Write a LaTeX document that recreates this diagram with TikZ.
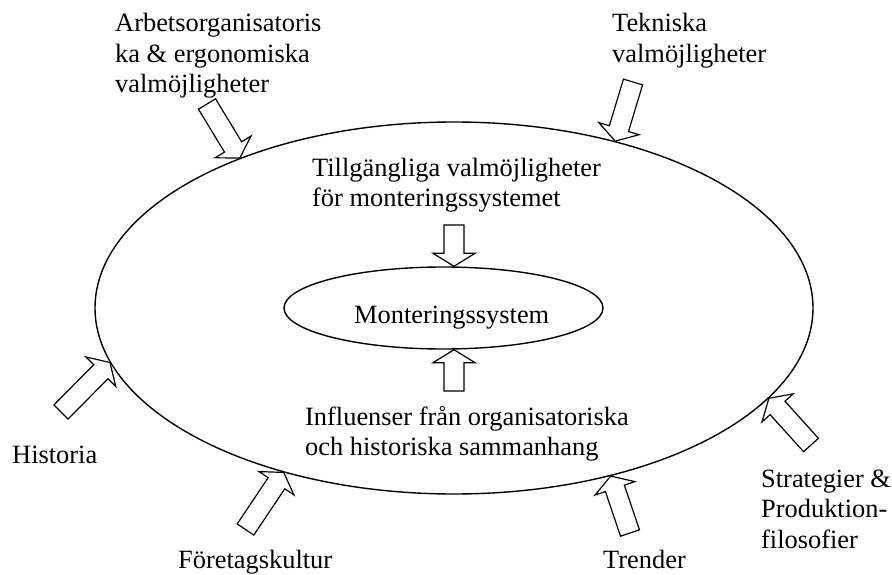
\documentclass[tikz,border=0pt]{standalone}
\usepackage{fontspec}
\setmainfont{Liberation Serif}
\usetikzlibrary{calc, shapes.geometric}

\newcommand{\blockpil}[2]{%
    \coordinate (hb) at ($(#2)!13pt!(#1)$);
    \draw[pil] ($(#1)!10pt!90:(#2)$) -- ($(hb)!10pt!90:(#2)$) -- ($(hb)!21pt!90:(#2)$) -- (#2)
        -- ($(hb)!21pt!-90:(#2)$) -- ($(hb)!10pt!-90:(#2)$) -- ($(#1)!10pt!-90:(#2)$) -- cycle;
}

\begin{document}
\begin{tikzpicture}[x=1pt, y=-1pt, font=\fontsize{26.4}{30.5}\selectfont,
    txt/.style={anchor=base west, inner sep=0pt, align=left},
    oval/.style={draw, ellipse, line width=1.4pt, inner sep=0pt},
    pil/.style={draw, fill=white, line width=1.2pt, line join=miter}
]
    \useasboundingbox (0,0) rectangle (892,575);
    \node[oval, minimum width=718pt, minimum height=372pt] (ytre) at (454,308) {};
    \node[oval, minimum width=319pt, minimum height=82pt] (inre) at (443.5,308) {};

    % base = last line
    \node[txt] (arbete) at (115,93) {Arbetsorganisatoris\\ka \& ergonomiska\\valmöjligheter};
    \node[txt] (teknik) at (612,62.5) {Tekniska\\valmöjligheter};
    \node[txt] (tillg) at (312,206.5) {Tillgängliga valmöjligheter\\för monteringssystemet};
    \node[txt] (mont) at (354,323) {Monteringssystem};
    \node[txt] (influ) at (305,455.5) {Influenser från organisatoriska\\och historiska sammanhang};
    \node[txt] (historia) at (12,463) {Historia};
    \node[txt] (foretag) at (178,568) {Företagskultur};
    \node[txt] (trender) at (603,568) {Trender};
    \node[txt] (strategi) at (761,548) {Strategier \&\\Produktion-\\filosofier};

    \coordinate (s1) at (207,104);
    \coordinate (s2) at (633,82);
    \coordinate (s3) at (61,412);
    \coordinate (s4) at (245.5,529.5);
    \coordinate (s5) at (630,533);
    \coordinate (s6) at (811,445);
    \coordinate (ovre) at (454,225);
    \coordinate (nedre) at (454,391);

    \blockpil{s1}{ytre.145.8}
    \blockpil{s2}{ytre.46.6}
    \blockpil{s3}{ytre.189.9}
    \blockpil{s4}{ytre.224.8}
    \blockpil{s5}{ytre.313.4}
    \blockpil{s6}{ytre.344.4}
    \blockpil{ovre}{ovre |- inre.north}
    \blockpil{nedre}{nedre |- inre.south}
\end{tikzpicture}
\end{document}
